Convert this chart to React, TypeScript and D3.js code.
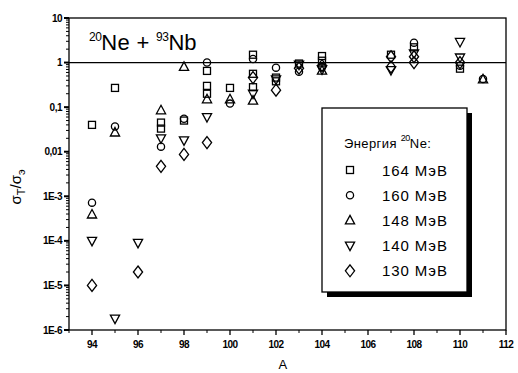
import * as d3 from "d3";

// energies of the 20Ne beam (legend order)
const energies = ["164 МэВ", "160 МэВ", "148 МэВ", "140 МэВ", "130 МэВ"];
const symbols = ["square", "circle", "triangle", "down", "diamond"];

// [A, sigma_T / sigma_e]
const e164: [number, number][] = [
  [94, 0.04], [95, 0.27], [97, 0.045], [97, 0.033], [98, 0.05], [99, 0.65], [99, 0.3],
  [99, 0.2], [100, 0.27], [101, 1.5], [101, 0.56], [101, 0.28], [102, 0.46], [102, 0.38],
  [103, 0.95], [104, 1.4], [104, 1.1], [107, 1.5], [108, 2.2], [110, 0.73],
];
const e160: [number, number][] = [
  [94, 7.2e-4], [95, 0.037], [97, 0.013], [98, 0.055], [99, 1.0], [100, 0.12],
  [101, 1.2], [102, 0.77], [103, 0.62], [104, 0.8], [108, 2.8], [110, 0.85], [111, 0.43],
];
const e148: [number, number][] = [
  [94, 3.9e-4], [95, 0.027], [97, 0.085], [98, 0.8], [99, 0.15], [100, 0.15],
  [101, 0.14], [104, 0.66], [111, 0.42],
];
const e140: [number, number][] = [
  [94, 1e-4], [95, 1.8e-6], [96, 9e-5], [97, 0.02], [98, 0.018], [99, 0.06],
  [101, 0.2], [102, 0.42], [103, 0.9], [104, 0.7], [107, 0.68], [108, 1.6],
  [110, 2.9], [110, 1.3],
];
const e130: [number, number][] = [
  [94, 1e-5], [96, 2e-5], [97, 0.0047], [98, 0.0087], [99, 0.016], [101, 0.46],
  [102, 0.24], [103, 0.75], [104, 0.85], [107, 1.35], [107, 0.8], [108, 1.35],
  [108, 1.0], [110, 1.0],
];
const series = [e164, e160, e148, e140, e130];

const yTicks = [10, 1, 0.1, 0.01, 1e-3, 1e-4, 1e-5, 1e-6];
const yTickLabels = ["10", "1", "0,1", "0,01", "1E-3", "1E-4", "1E-5", "1E-6"];
const xTicks = [94, 96, 98, 100, 102, 104, 106, 108, 110, 112];

const W = 518;
const H = 373;
const left = 69;
const right = 506;
const top = 18;
const bottom = 330;
const font = "'Liberation Sans', Arial, sans-serif";

function Marker({ type, x, y }: { type: string; x: number; y: number }) {
  const p = { fill: "none", stroke: "#000", strokeWidth: 1.3 };
  if (type === "square") return <rect x={x - 3.5} y={y - 3.5} width={7} height={7} {...p} />;
  if (type === "circle") return <circle cx={x} cy={y} r={3.6} {...p} />;
  if (type === "triangle")
    return <path d={`M${x},${y - 5}L${x + 4.6},${y + 3.5}L${x - 4.6},${y + 3.5}Z`} {...p} />;
  if (type === "down")
    return <path d={`M${x},${y + 5}L${x + 4.6},${y - 3.5}L${x - 4.6},${y - 3.5}Z`} {...p} />;
  return <path d={`M${x},${y - 6}L${x + 4.6},${y}L${x},${y + 6}L${x - 4.6},${y}Z`} {...p} />;
}

export default function App() {
  const x = d3.scaleLinear().domain([93, 112]).range([left, right]);
  const y = d3.scaleLog().domain([1e-6, 10]).range([bottom, top]);

  const minorY: number[] = [];
  for (let e = -6; e < 1; e++) {
    for (let k = 2; k <= 9; k++) minorY.push(k * Math.pow(10, e));
  }
  const minorX = d3.range(93, 112, 1).filter((d) => d % 2 === 1);

  // legend
  const lgX = 322;
  const lgY = 108;
  const lgW = 145;
  const lgH = 184;

  return (
    <svg width={W} height={H} style={{ position: "absolute", left: 0, top: 0, background: "#fff" }}
      fontFamily={font}>
      <rect width={W} height={H} fill="#fff" />
      {/* frame */}
      <rect x={left} y={top} width={right - left} height={bottom - top} fill="none" stroke="#000" strokeWidth={1.3} />
      <line x1={left} x2={right} y1={y(1)} y2={y(1)} stroke="#000" strokeWidth={1.3} />

      {/* y ticks */}
      {yTicks.map((t, i) => (
        <g key={t}>
          <line x1={left - 5} x2={left} y1={y(t)} y2={y(t)} stroke="#000" strokeWidth={2} />
          <text x={left - 7} y={y(t) + 3.5} textAnchor="end" fontSize={10} fontWeight="bold" letterSpacing={-0.5}>
            {yTickLabels[i]}
          </text>
        </g>
      ))}
      {minorY.map((t) => (
        <line key={t} x1={left - 3} x2={left} y1={y(t)} y2={y(t)} stroke="#000" strokeWidth={1} />
      ))}

      {/* x ticks */}
      {xTicks.map((t) => (
        <g key={t}>
          <line x1={x(t)} x2={x(t)} y1={bottom} y2={bottom + 5} stroke="#000" strokeWidth={1.3} />
          <text x={x(t)} y={bottom + 18} textAnchor="middle" fontSize={10} fontWeight="bold" letterSpacing={-0.5}>
            {t}
          </text>
        </g>
      ))}
      {minorX.map((t) => (
        <line key={t} x1={x(t)} x2={x(t)} y1={bottom} y2={bottom + 3} stroke="#000" strokeWidth={1} />
      ))}

      {/* axis titles */}
      <text x={x(102.3)} y={369} textAnchor="middle" fontSize={13}>A</text>
      <text transform="translate(21,187) rotate(-90)" textAnchor="middle" fontSize={15}>
        σ<tspan fontSize={11} dy={4}>T</tspan>
        <tspan dy={-4}>/σ</tspan>
        <tspan fontSize={11} dy={4}>э</tspan>
      </text>

      {/* reaction label */}
      <text x={89} y={50} fontSize={22}>
        <tspan fontSize={12} dy={-9} letterSpacing={-0.5}>20</tspan>
        <tspan dy={9} letterSpacing={0.3}>Ne + </tspan>
        <tspan fontSize={12} dy={-9} letterSpacing={-0.5}>93</tspan>
        <tspan dy={9}>Nb</tspan>
      </text>

      {/* data */}
      {series.map((s, i) => (
        <g key={i}>
          {s.map(([a, v], j) => (
            <Marker key={j} type={symbols[i]} x={x(a)} y={y(v)} />
          ))}
        </g>
      ))}

      {/* legend */}
      <rect x={lgX + 5} y={lgY + 5} width={lgW} height={lgH} fill="#000" />
      <rect x={lgX} y={lgY} width={lgW} height={lgH} fill="#fff" stroke="#000" strokeWidth={1.3} />
      <text x={lgX + 22} y={lgY + 40} fontSize={13} letterSpacing={0.4}>
        Энергия <tspan fontSize={9} dy={-7} letterSpacing={-0.5}>20</tspan>
        <tspan dy={7}>Ne:</tspan>
      </text>
      {energies.map((e, i) => (
        <g key={e}>
          <Marker type={symbols[i]} x={lgX + 28} y={lgY + 62 + i * 25.2} />
          <text x={lgX + 60} y={lgY + 67.5 + i * 25.2} fontSize={15} letterSpacing={0.9}>{e}</text>
        </g>
      ))}
    </svg>
  );
}
